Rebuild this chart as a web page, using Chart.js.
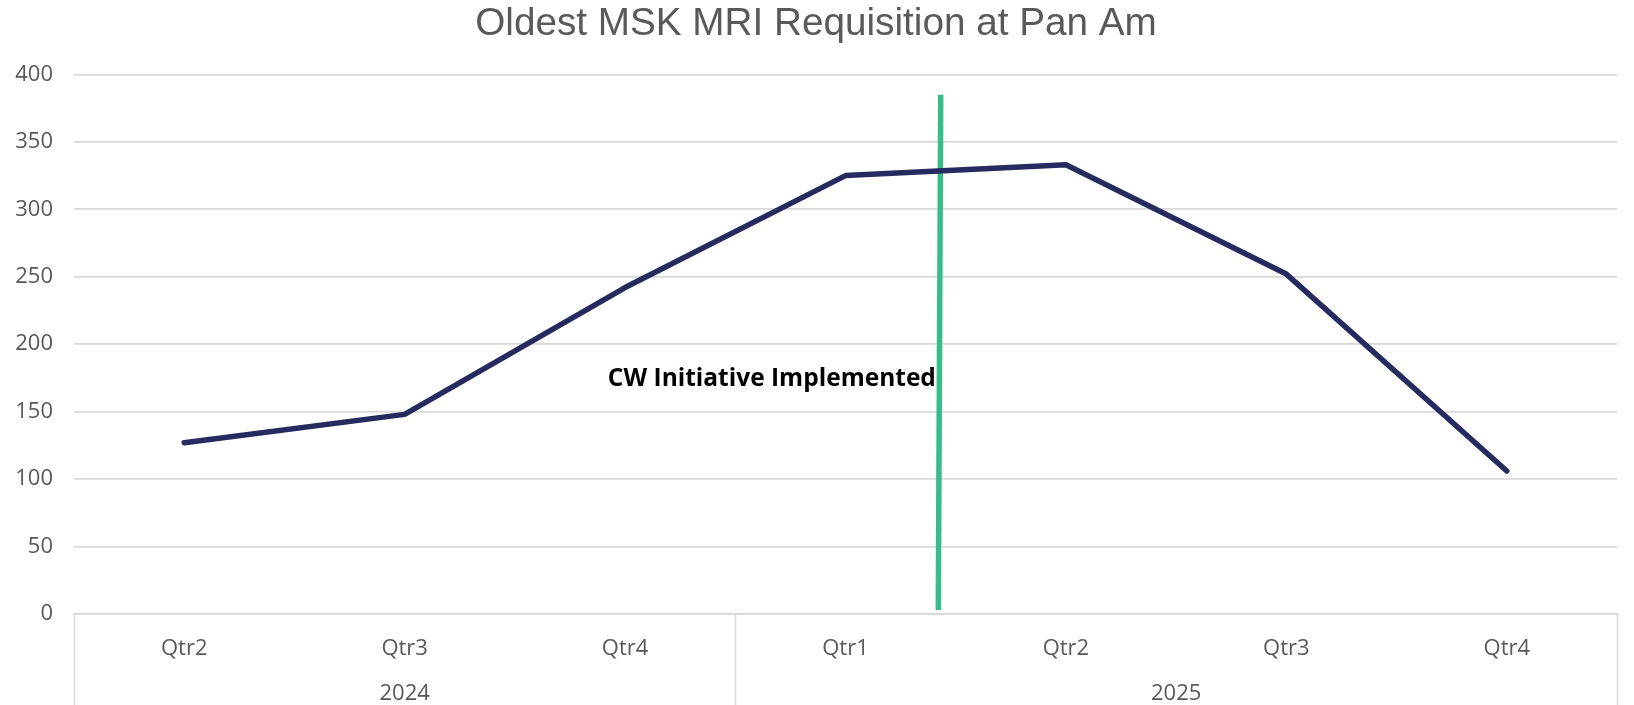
<!DOCTYPE html>
<html>
<head>
<meta charset="utf-8">
<title>Oldest MSK MRI Requisition at Pan Am</title>
<script src="https://cdn.jsdelivr.net/npm/chart.js@4/dist/chart.umd.min.js"></script>
<style>
  html, body { margin: 0; padding: 0; background: #ffffff; }
  #wrap { width: 1634px; height: 705px; position: relative; }
</style>
</head>
<body>
<div id="wrap"><canvas id="chart"></canvas></div>
<script>
"use strict";

// Quarter labels (inner axis level)
const quarters = ["Qtr2", "Qtr3", "Qtr4", "Qtr1", "Qtr2", "Qtr3", "Qtr4"];

// Year groups (outer axis level) and how many quarters each covers
const years = ["2024", "2025"];
const yearSpans = [3, 4];

// Oldest requisition (days) per quarter
const oldestDays = [127, 148, 242, 325, 333, 252, 106];

// Hand-drawn marker line: x in category units, y in axis units
const markerX = [3.432, 3.421];
const markerY = [385, 3];

const markerText = "CW Initiative Implemented";

const GRID = "#d9d9d9";
const TEXT = "#595959";

// Draws the year row, the group dividers and the annotation text
const groupAxisPlugin = {
  id: "groupAxis",
  afterDraw(chart) {
    const { ctx, chartArea } = chart;
    const x = chart.scales.x;
    const y = chart.scales.y;
    const bottom = chart.height;

    ctx.save();
    ctx.strokeStyle = GRID;
    ctx.lineWidth = 1.5;

    let start = 0;
    const edges = [-0.5];
    years.forEach((_, i) => {
      start += yearSpans[i];
      edges.push(start - 0.5);
    });
    edges.forEach((v) => {
      const px = Math.round(x.getPixelForValue(v)) + 0.5;
      ctx.beginPath();
      ctx.moveTo(px, chartArea.bottom);
      ctx.lineTo(px, bottom);
      ctx.stroke();
    });

    ctx.fillStyle = TEXT;
    ctx.font = "22px 'Open Sans'";
    ctx.textAlign = "center";
    ctx.textBaseline = "middle";
    years.forEach((yr, i) => {
      const left = x.getPixelForValue(edges[i]);
      const right = x.getPixelForValue(edges[i + 1]);
      ctx.fillText(yr, (left + right) / 2, chartArea.bottom + 80);
    });

    // annotation, right edge against the marker line
    ctx.fillStyle = "#000000";
    ctx.font = "bold 24.5px 'Open Sans'";
    ctx.textAlign = "right";
    ctx.fillText(markerText, chart.scales.x2.getPixelForValue(3.41), y.getPixelForValue(174));
    ctx.restore();
  },
};

const ctx = document.getElementById("chart").getContext("2d");

new Chart(ctx, {
  type: "line",
  data: {
    labels: quarters,
    datasets: [
      {
        label: "Oldest MSK MRI Requisition",
        data: oldestDays,
        borderColor: "#262b5f",
        borderWidth: 5.5,
        borderJoinStyle: "round",
        borderCapStyle: "round",
        tension: 0,
        pointRadius: 0,
        pointHoverRadius: 0,
        fill: false,
        xAxisID: "x",
      },
      {
        label: "CW Initiative",
        type: "scatter",
        data: markerX.map((v, i) => ({ x: v, y: markerY[i] })),
        showLine: true,
        borderColor: "#36bd8b",
        borderWidth: 5.5,
        pointRadius: 0,
        pointHoverRadius: 0,
        fill: false,
        xAxisID: "x2",
      },
    ],
  },
  options: {
    responsive: true,
    maintainAspectRatio: false,
    animation: false,
    layout: {
      padding: { left: 15, right: 17, top: 0, bottom: 0 },
    },
    plugins: {
      legend: { display: false },
      tooltip: { enabled: false },
      title: {
        display: true,
        text: "Oldest MSK MRI Requisition at Pan Am",
        color: TEXT,
        font: { family: "'Liberation Sans'", size: 38.7, weight: "normal" },
        padding: { top: 1, bottom: 27 },
      },
    },
    scales: {
      x: {
        type: "category",
        offset: true,
        grid: { display: false, drawTicks: false },
        border: { display: true, color: GRID, width: 1.7 },
        ticks: {
          color: TEXT,
          font: { family: "'Open Sans'", size: 22 },
          padding: 22,
          maxRotation: 0,
        },
        afterFit(scale) {
          scale.height = 91;
        },
      },
      x2: {
        type: "linear",
        display: false,
        min: -0.5,
        max: 6.5,
      },
      y: {
        min: 0,
        max: 400,
        border: { display: false },
        grid: { color: GRID, lineWidth: 1.7, drawTicks: false },
        ticks: {
          stepSize: 50,
          color: TEXT,
          font: { family: "'Open Sans'", size: 22 },
          padding: 21,
        },
        afterFit(scale) {
          scale.width = 59;
        },
      },
    },
  },
  plugins: [groupAxisPlugin],
});
</script>
</body>
</html>
